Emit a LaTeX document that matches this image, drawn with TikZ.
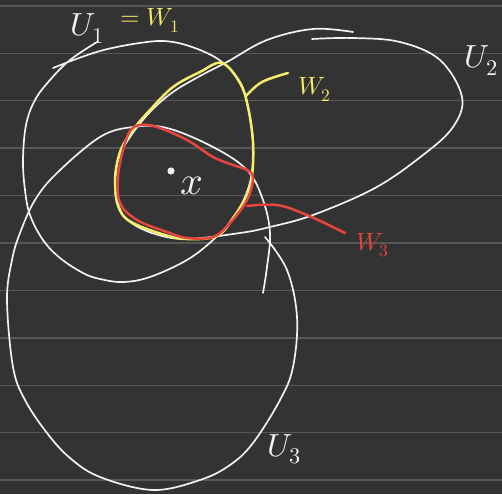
\documentclass[tikz,border=0pt]{standalone}
\usepackage{fontspec}
\usepackage{unicode-math}
\definecolor{bg}{HTML}{333333}
\definecolor{rulec}{HTML}{575757}
\definecolor{chalk}{HTML}{F2F2F2}
\definecolor{hlyellow}{HTML}{F5EE6A}
\definecolor{hlred}{HTML}{E8453F}
\tikzset{
  rulestroke/.style={draw=rulec, line width=1.4pt},
  wline/.style={draw=chalk, line width=1.7pt},
  yline/.style={draw=hlyellow, line width=2.5pt},
  rline/.style={draw=hlred, line width=2.5pt},
  biglab/.style={inner sep=0pt, anchor=base west, font=\fontsize{32}{34}\selectfont},
  smalllab/.style={inner sep=0pt, anchor=base west, font=\fontsize{25}{28}\selectfont},
}
\begin{document}
\begin{tikzpicture}[x=1pt,y=-1pt,line cap=round,line join=round]
\fill[bg] (0,0) rectangle (502,494);
\useasboundingbox (0,0) rectangle (502,494);
\foreach \k in {0,...,10} \draw[rulestroke] (0,{6+47.4*\k}) -- (502,{6+47.4*\k});

% U1
\draw[wline] plot[smooth, tension=0.6] coordinates {(53,68) (100,51) (147,42) (173,42) (200,50) (222,62) (240,82) (248,107) (253,140) (252,172) (245,197) (232,220) (213,240) (187,260) (150,277) (123,282) (100,279) (83,273) (60,258) (43,240) (30,215) (25,190) (23,160) (26,125) (35,100) (50,80) (70,60) (97,42)};
% U2
\draw[wline] plot[smooth, tension=0.6] coordinates {(353,32) (313,29) (267,40) (227,62) (200,76) (173,92) (150,112) (130,137) (118,160) (115,185) (118,207) (130,222) (155,234) (187,239) (240,233) (270,227) (313,215) (375,188) (423,155) (453,127) (462,97) (440,60) (400,42) (353,38) (312,39)};
% U3
\draw[wline] plot[smooth, tension=0.6] coordinates {(265,237) (287,270) (297,317) (293,367) (280,400) (253,443) (230,465) (200,480) (153,490) (100,477) (70,458) (47,433) (25,400) (13,367) (7,300) (12,260) (20,233) (35,200) (57,173) (100,137) (133,127) (167,128) (213,147) (247,170) (263,200) (270,233) (267,267) (263,293)};

% W2
\draw[yline] plot[smooth cycle, tension=0.6] coordinates {(222,63) (240,83) (248,107) (253,143) (252,177) (247,195) (233,218) (217,236) (187,239) (165,235) (133,223) (120,210) (115,182) (120,152) (133,130) (150,110) (173,87) (200,72)};
\draw[yline] plot[smooth, tension=0.6] coordinates {(246,96) (262,82) (288,73)};

% W3
\draw[rline] plot[smooth cycle, tension=0.6] coordinates {(140,125) (157,127) (187,140) (213,157) (233,165) (247,170) (253,178) (247,200) (230,223) (213,237) (187,238) (167,232) (137,220) (120,203) (118,177) (123,150) (130,131)};
\draw[rline] plot[smooth, tension=0.6] coordinates {(247,206) (277,205) (307,215) (345,233)};

% point and labels
\fill[chalk] (171,171) circle (3.6pt);
\node[inner sep=0pt, anchor=base west, text=chalk, font=\fontsize{40}{42}\selectfont] (nx) at (180,194) {$x$};
\node[biglab, text=chalk] (nu1) at (70,36) {$U_1$};
\node[smalllab, text=hlyellow] (nw1) at (120,26) {$=W_1$};
\node[biglab, text=chalk] (nu2) at (464,68) {$U_2$};
\node[smalllab, text=hlyellow] (nw2) at (298,95) {$W_2$};
\node[smalllab, text=hlred] (nw3) at (356,250) {$W_3$};
\node[biglab, text=chalk] (nu3) at (267,456) {$U_3$};
\end{tikzpicture}
\end{document}
